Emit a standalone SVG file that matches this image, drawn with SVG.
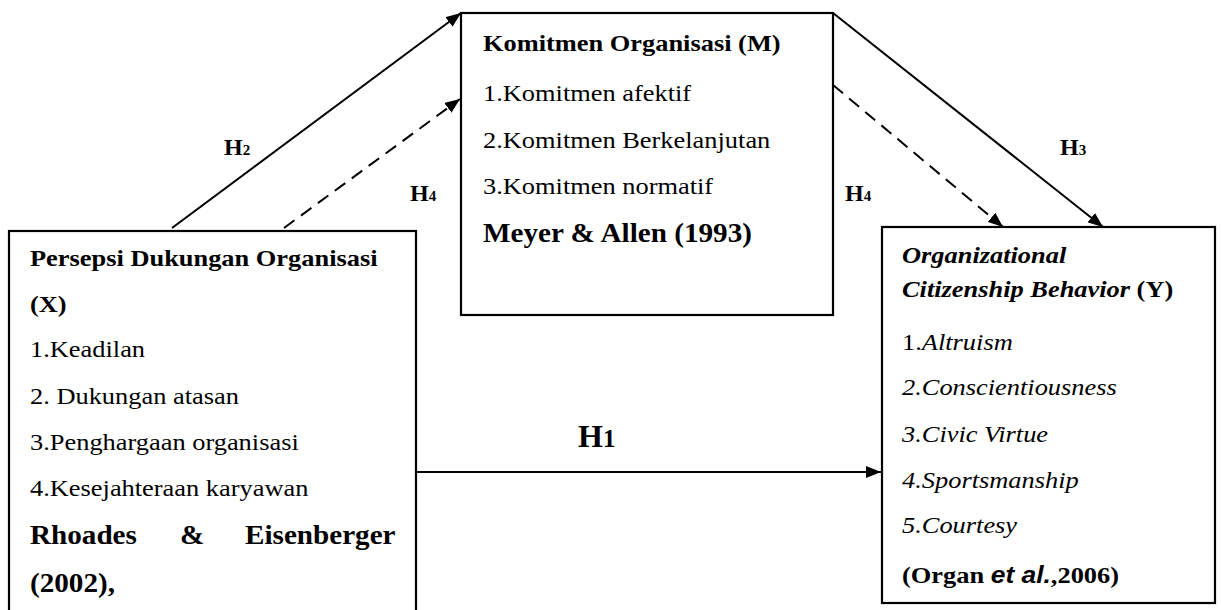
<svg xmlns="http://www.w3.org/2000/svg" width="1221" height="610" viewBox="0 0 1221 610">
<defs>
<style>
.box{fill:#fff;stroke:#000;stroke-width:2.2}
.t{font-family:"Liberation Serif","Times New Roman",serif;font-size:24px;fill:#000}
.b{font-weight:bold}
.i{font-style:italic}
.big{font-size:26.5px}
.ln{fill:none;stroke:#000;stroke-width:2}
.dash{stroke-dasharray:13 8}
.lab{font-family:"Liberation Serif","Times New Roman",serif;font-weight:bold;font-size:24px;fill:#000}
.sub{font-size:15px}
.h1{font-size:32px}
</style>
<marker id="ah" markerUnits="userSpaceOnUse" markerWidth="15" markerHeight="12" viewBox="0 0 15 12" refX="15" refY="6" orient="auto">
<path d="M0,0 L15,6 L0,12 z" fill="#000"/>
</marker>
</defs>
<rect width="1221" height="610" fill="#fff"/>

<g id="connectors">
<line class="ln" x1="172" y1="228" x2="461" y2="13" marker-end="url(#ah)"/>
<line class="ln dash" x1="284" y1="228" x2="460" y2="99" marker-end="url(#ah)"/>
<line class="ln" x1="833" y1="13" x2="1103" y2="227" marker-end="url(#ah)"/>
<line class="ln dash" x1="833" y1="85" x2="1003" y2="227" marker-end="url(#ah)"/>
<line class="ln" x1="416" y1="472" x2="881" y2="472" marker-end="url(#ah)"/>
<text class="lab" x="224" y="155">H<tspan class="sub">2</tspan></text>
<text class="lab" x="410" y="201">H<tspan class="sub">4</tspan></text>
<text class="lab" x="1060" y="155">H<tspan class="sub">3</tspan></text>
<text class="lab" x="845" y="201">H<tspan class="sub">4</tspan></text>
<text class="lab h1" x="578" y="447">H<tspan style="font-size:25px">1</tspan></text>
</g>

<g id="node-x">
<rect class="box" x="9" y="231" width="407" height="400"/>
<g transform="translate(30,0) scale(1.1,1)">
<text class="t b" x="0" y="266">Persepsi Dukungan Organisasi</text>
<text class="t b" x="0" y="312">(X)</text>
<text class="t" x="0" y="357">1.Keadilan</text>
<text class="t" x="0" y="404">2. Dukungan atasan</text>
<text class="t" x="0" y="450">3.Penghargaan organisasi</text>
<text class="t" x="0" y="496">4.Kesejahteraan karyawan</text>
<text class="t b big" y="544"><tspan x="0">Rhoades</tspan><tspan x="136.4">&amp;</tspan><tspan x="195.5">Eisenberger</tspan></text>
<text class="t b big" x="0" y="592">(2002),</text>
</g>
</g>

<g id="node-m">
<rect class="box" x="461" y="13" width="372" height="302"/>
<g transform="translate(483,0) scale(1.1,1)">
<text class="t b" x="0" y="51">Komitmen Organisasi (M)</text>
<text class="t" x="0" y="101">1.Komitmen afektif</text>
<text class="t" x="0" y="148">2.Komitmen Berkelanjutan</text>
<text class="t" x="0" y="194">3.Komitmen normatif</text>
<text class="t b big" x="0" y="242">Meyer &amp; Allen (1993)</text>
</g>
</g>

<g id="node-y">
<rect class="box" x="882" y="227" width="333" height="376"/>
<g transform="translate(902,0) scale(1.1,1)">
<text class="t b i" x="0" y="263">Organizational</text>
<text class="t b" x="0" y="297"><tspan class="i">Citizenship Behavior</tspan> (Y)</text>
<text class="t" x="0" y="350">1.<tspan class="i">Altruism</tspan></text>
<text class="t i" x="0" y="395">2.Conscientiousness</text>
<text class="t i" x="0" y="442">3.Civic Virtue</text>
<text class="t i" x="0" y="488">4.Sportsmanship</text>
<text class="t i" x="0" y="533">5.Courtesy</text>
<text class="t b" x="0" y="583">(Organ <tspan class="i" font-family="Liberation Sans, Arial, sans-serif">et al.</tspan>,2006)</text>
</g>
</g>
</svg>
